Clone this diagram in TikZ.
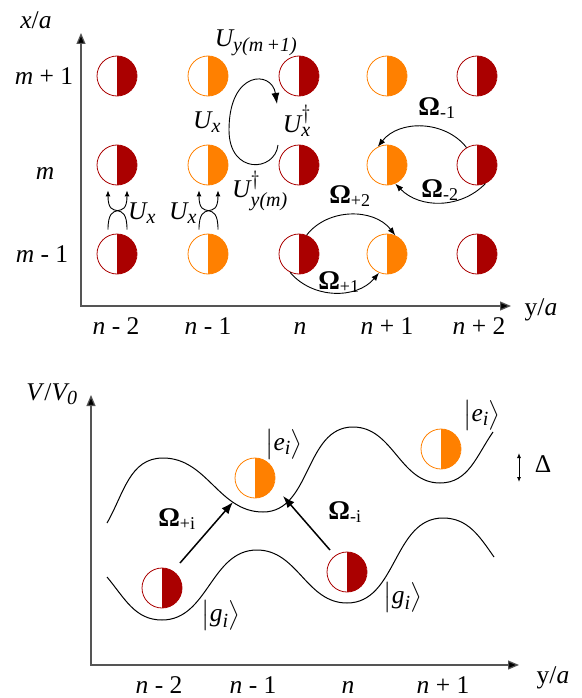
\documentclass[tikz,border=0pt]{standalone}
\usepackage{amsmath}
\usepackage{fontspec}
\setmainfont{Liberation Serif}
\DeclareMathSizes{25.5}{25.5}{20}{16}
\DeclareMathSizes{27}{27}{18}{14}
\usetikzlibrary{arrows.meta,calc}
\definecolor{dred}{HTML}{AA0000}
\definecolor{orng}{HTML}{FF8000}
\definecolor{axisgray}{HTML}{555555}
\begin{document}
\begin{tikzpicture}[x=1pt,y=1pt,
  font=\fontsize{25.5}{30}\selectfont,
  particle/.style={circle, minimum size=40pt, inner sep=0pt, draw=#1, line width=0.8pt,
    path picture={\fill[#1] (path picture bounding box.north) rectangle (path picture bounding box.south east);}},
  axis/.style={draw=axisgray, line width=1.2pt, {Triangle[length=11pt,width=9pt,fill=black]}-{Triangle[length=11pt,width=9pt,fill=black]}},
  tarrow/.style={line width=0.9pt, -{Latex[length=8pt,width=6pt]}},
  carrow/.style={line width=0.9pt, -{Latex[length=11pt,width=8pt]}},
  xarrow/.style={line width=0.9pt, -{Latex[length=6pt,width=5pt]}},
  barrow/.style={line width=1.5pt, -{Latex[length=12pt,width=9pt]}},
  wave/.style={line width=1pt},
  lab/.style={anchor=base, inner sep=0pt},
  mlab/.style={inner sep=0pt},
  om/.style={inner sep=0pt, font=\fontsize{27}{30}\selectfont}]
\useasboundingbox (0,0) rectangle (581,-698);

% ---------- top panel ----------
\coordinate (ty) at (81,-33);
\coordinate (tx) at (511,-306);
\draw[axis] (ty) |- (tx);
\node[mlab] (xa) at (36,-20) {\textit{x}/\textit{a}};
\node[lab] (ya1) at (541,-315) {y/\textit{a}};

\foreach \c/\x/\col in {A/117/dred, B/208/orng, C/299/dred, D/387/orng, E/477/dred}{
  \foreach \r/\y in {1/-254, 2/-165, 3/-76}{
    \node[particle=\col] (t\c\r) at (\x,\y) {};
  }
}

\node[lab] (rm1) at (44,-85) {\textit{m} + 1};
\node[lab] (rm) at (45,-179) {\textit{m}};
\node[lab] (rm0) at (42,-262) {\textit{m} - 1};

\node[lab] (cn2) at (116,-334) {\textit{n} - 2};
\node[lab] (cn1) at (208,-334) {\textit{n} - 1};
\node[lab] (cn) at (300,-334) {\textit{n}};
\node[lab] (cp1) at (387,-334) {\textit{n} + 1};
\node[lab] (cp2) at (479,-334) {\textit{n} + 2};

% crossing arrows
\draw[xarrow] ($(tA1.north)+(-9,4)$) to[out=90,in=-90,looseness=1.9] ($(tA2.south)+(10,-5)$);
\draw[xarrow] ($(tA1.north)+(10,4)$) to[out=90,in=-90,looseness=1.9] ($(tA2.south)+(-9,-5)$);
\draw[xarrow] ($(tB1.north)+(-9,4)$) to[out=90,in=-90,looseness=1.9] ($(tB2.south)+(10,-5)$);
\draw[xarrow] ($(tB1.north)+(10,4)$) to[out=90,in=-90,looseness=1.9] ($(tB2.south)+(-9,-5)$);
\node[mlab] (ux1) at (142,-213) {$\textit{U}_{\textit{x}}$};
\node[mlab] (ux2) at (183,-213) {$\textit{U}_{\textit{x}}$};

% C loop
\draw[carrow] ($(tC2)+(-21,20)$) .. controls ($(tC2)+(-24,-7)$) and ($(tC2)+(-70,-10)$) .. ($(tC2)+(-70,35)$)
  .. controls ($(tC2)+(-70,95)$) and ($(tC3)+(-27,6)$) .. ($(tC3)+(-22,-28)$);
\node[mlab] (uym1) at (256,-43) {$\textit{U}_{\textit{y(m\,+1)}}$};
\node[mlab] (uxl) at (207,-122) {$\textit{U}_{\textit{x}}$};
\node[mlab] (uxd) at (297,-121) {$\textit{U}^{\dagger}_{\textit{x}}$};
\node[mlab] (uym) at (260,-191) {$\textit{U}^{\dagger}_{\textit{y(m)}}$};

% Omega arrows
\draw[tarrow] (tC1.68) to[out=52,in=128] (tD1.66);
\draw[tarrow] (tC1.244) to[out=-50,in=-130] (tD1.247);
\draw[tarrow] (tE2.121) to[out=128,in=52] (tD2.117);
\draw[tarrow] (tE2.-66) to[out=-134,in=-46] (tD2.-66);
\node[om] (om2) at (350,-196) {\textbf{Ω}$_{\text{+2}}$};
\node[om] (om1) at (339,-282) {\textbf{Ω}$_{\text{+1}}$};
\node[om] (omm1) at (437,-108) {\textbf{Ω}$_{\text{-1}}$};
\node[om] (omm2) at (440,-190) {\textbf{Ω}$_{\text{-2}}$};

% ---------- bottom panel ----------
\coordinate (by) at (91,-395);
\coordinate (bx) at (519,-665);
\draw[axis] (by) |- (bx);
\node[lab] (vv) at (52,-400) {\textit{V}/$\textit{V}_{\textit{0}}$};
\node[lab] (ya2) at (553,-683) {y/\textit{a}};

\node[lab] (dn2) at (159,-693) {\textit{n} - 2};
\node[lab] (dn1) at (253,-693) {\textit{n} - 1};
\node[lab] (dn) at (348,-693) {\textit{n}};
\node[lab] (dp1) at (443,-693) {\textit{n} + 1};

\draw[wave] (107,-523) to[out=60,in=180] (163,-458) to[out=0,in=180] (263,-512)
  to[out=0,in=180] (353,-427) to[out=0,in=180] (440,-483) to[out=0,in=235] (493,-432);
\draw[wave] (107,-577) to[out=-50,in=180] (162,-620) to[out=0,in=180] (257,-550)
  to[out=0,in=180] (347,-603) to[out=0,in=180] (443,-518) to[out=0,in=125] (494,-557);

\node[particle=dred] (b1) at (162,-588) {};
\node[particle=orng] (b2) at (255,-478) {};
\node[particle=dred] (b3) at (347,-572) {};
\node[particle=orng] (b4) at (441,-449) {};

\draw[barrow] ($(b1)+(18,25)$) -- ($(b2)+(-22,-24)$);
\draw[barrow] ($(b3)+(-17,22)$) -- ($(b2)+(28,-18)$);
\node[om] (opi) at (177,-519) {\textbf{Ω}$_{\text{+i}}$};
\node[om] (omi) at (345,-512) {\textbf{Ω}$_{\text{-i}}$};

\node[mlab] (e1) at (284,-444) {$\bigl|\textit{e}_{\textit{i}}\bigr\rangle$};
\node[mlab] (e2) at (482,-415) {$\bigl|\textit{e}_{\textit{i}}\bigr\rangle$};
\node[mlab] (g1) at (221,-615) {$\bigl|\textit{g}_{\textit{i}}\bigr\rangle$};
\node[mlab] (g2) at (403,-597) {$\bigl|\textit{g}_{\textit{i}}\bigr\rangle$};

\node[lab] (dl) at (543,-472) {Δ};
\draw[line width=0.9pt, {Latex[length=5pt,width=4pt]}-{Latex[length=5pt,width=4pt]}] ($(dl.base)+(-24,19)$) -- ($(dl.base)+(-24,-10)$);
\end{tikzpicture}
\end{document}
